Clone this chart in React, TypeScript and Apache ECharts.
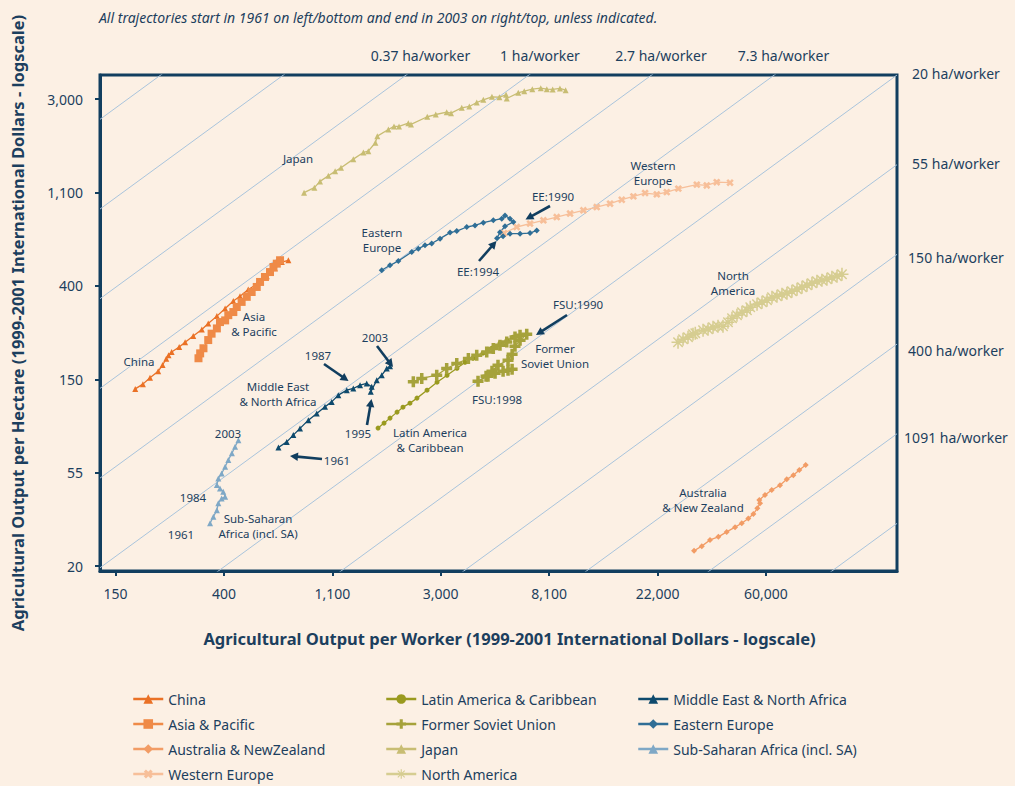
import React, { useEffect, useRef } from "react";
import * as echarts from "echarts";

const FONT = "'Noto Sans', sans-serif";
const TEXT = "#1c3f5e";
const FRAME = "#113e5f";
const BG = "#fcf0e4";
const ISO = "#a9c4dc";

// Axis tick labels (ticks sit at e^k, k = 5..11 on x and 3..8 on y)
const xTickLabels = ["150", "400", "1,100", "3,000", "8,100", "22,000", "60,000"];
const xTickFirstExp = 5;
const yTickLabels = ["20", "55", "150", "400", "1,100", "3,000"];
const yTickFirstExp = 3;
const xRange = [128.6, 200600];
const yRange = [19.08, 3857];

const isoTopLabels = ["0.37 ha/worker", "1 ha/worker", "2.7 ha/worker", "7.3 ha/worker"];
const isoRightLabels = ["20 ha/worker", "55 ha/worker", "150 ha/worker", "400 ha/worker", "1091 ha/worker"];

// ---- series values (output per worker, output per hectare) ----
const chinaX = [178, 191, 204, 220, 229, 237, 242, 249, 267, 282, 304, 329, 349, 378, 408, 440, 468, 505, 546, 599, 646, 688, 731];
const chinaY = [134, 141, 151, 162, 173, 185, 192, 199, 210, 221, 236, 253, 270, 292, 317, 343, 361, 388, 411, 447, 486, 521, 531];

const asiaX = [319, 324, 334, 349, 360, 378, 389, 408, 420, 440, 454, 475, 498, 521, 546, 563, 589, 617, 637, 657, 677];
const asiaY = [186, 196, 207, 226, 242, 256, 274, 279, 295, 305, 322, 340, 359, 378, 399, 421, 444, 468, 494, 512, 531];

const ausX = [30850, 33130, 35740, 38600, 41690, 45030, 47890, 50900, 53310, 55310, 56710, 56310, 59360, 63190, 68180, 72530, 77100, 81460, 86400];
const ausY = [23.7, 24.9, 26.6, 27.5, 29.0, 30.5, 31.8, 33.5, 35.1, 37.3, 39.4, 40.8, 43.0, 45.4, 47.8, 50.9, 53.2, 56.2, 59.3];

const weX = [5345, 6008, 6794, 7685, 8691, 9828, 11113, 12569, 14215, 15836, 17631, 19634, 21876, 23983, 26684, 31641, 34684, 38023, 42995];
const weY = [710, 758, 786, 814, 843, 875, 906, 938, 973, 1015, 1052, 1090, 1075, 1101, 1143, 1193, 1183, 1225, 1218];

const lacX = [1672, 1767, 1867, 1992, 2104, 2244, 2394, 2627, 2881, 3160, 3463, 3729, 4015, 4402, 4783, 5150, 5491, 5806];
const lacY = [88.1, 92.9, 98.0, 104.5, 110.2, 115.0, 121.4, 132.2, 144.0, 155.1, 167.2, 178.2, 186.0, 196.4, 207.1, 218.6, 225.6, 233.0];

const fsuX = [2315, 2502, 2873, 3149, 3456, 3847, 4155, 4556, 4841, 5150, 5481, 5914, 6196, 6590, 6196, 5914, 5758, 5546, 5056, 4783, 4528, 4205, 4610, 4920, 5298, 5546, 5758];
const fsuY = [144.5, 149.8, 155.1, 166.7, 175.9, 185.5, 192.1, 199.1, 206.5, 213.8, 221.6, 233.6, 238.0, 240.6, 225.6, 211.7, 194.2, 182.2, 172.6, 161.9, 153.5, 145.5, 153.5, 158.5, 161.9, 163.7, 165.5];

const japanX = [845, 929, 979, 1057, 1125, 1188, 1331, 1460, 1528, 1631, 1661, 1839, 1937, 2029, 2210, 2266, 2633, 2847, 3149, 3278, 3618, 3881, 4155, 4415, 4780, 5120, 5445, 5480, 6095, 6440, 6940, 7500, 7930, 8375, 8950, 9435];
const japanY = [1095, 1155, 1235, 1313, 1375, 1430, 1567, 1683, 1707, 1868, 2004, 2153, 2224, 2224, 2304, 2272, 2467, 2527, 2591, 2563, 2716, 2754, 2874, 2957, 3055, 3041, 3121, 2999, 3188, 3242, 3314, 3350, 3314, 3304, 3339, 3278];

const naX = [26610, 27870, 29180, 30550, 31200, 33520, 35100, 36750, 38480, 40290, 42190, 43780, 45840, 48000, 50250, 51800, 55150, 57750, 60480, 63310, 66290, 69410, 72680, 76100, 79760, 83510, 87440, 91550, 95860, 100370, 105090, 110040, 115330, 120750];
const naY = [220.8, 228.0, 233.0, 240.6, 243.2, 251.1, 253.7, 259.3, 261.9, 262.0, 273.4, 285.4, 294.7, 304.3, 310.9, 321.1, 331.6, 338.6, 346.1, 357.5, 361.2, 369.1, 372.8, 381.0, 389.2, 397.7, 406.3, 415.0, 424.2, 428.8, 433.2, 442.7, 447.7, 457.1];

const menaX = [667, 720, 765, 814, 879, 950, 1025, 1090, 1159, 1253, 1331, 1416, 1506, 1577, 1563, 1652, 1730, 1812, 1867];
const menaY = [71.6, 76.0, 81.7, 87.8, 95.9, 103.0, 110.6, 116.6, 125.3, 132.2, 134.6, 139.5, 142.0, 137.0, 129.8, 147.1, 155.1, 166.7, 170.9];

const eeX = [1730, 1867, 2016, 2282, 2424, 2578, 2743, 2962, 3249, 3456, 3790, 4089, 4415, 4841, 5234, 5393, 5647, 5825, 5393, 5150, 5009, 5298, 5647, 6196, 6794, 7229];
const eeY = [477, 503, 527, 580, 601, 623, 635, 669, 714, 726, 758, 771, 794, 814, 829, 858, 829, 800, 764, 716, 672, 686, 706, 706, 710, 731];

const ssaX = [355, 366, 378, 383, 395, 408, 401, 389, 378, 383, 395, 408, 420, 434, 447, 461];
const ssaY = [31.8, 34.1, 36.6, 39.4, 41.5, 42.2, 44.6, 46.2, 47.9, 51.4, 54.2, 58.2, 62.6, 67.2, 72.1, 77.4];

const PLUS = "path://M3.4,0H6.6V3.4H10V6.6H6.6V10H3.4V6.6H0V3.4H3.4Z";
const STAR = "path://M4.4,0H5.6V3.6L8.2,1L9,1.8L6.4,4.4H10V5.6H6.4L9,8.2L8.2,9L5.6,6.4V10H4.4V6.4L1.8,9L1,8.2L3.6,5.6H0V4.4H3.6L1,1.8L1.8,1L4.4,3.6Z";

type Spec = { name: string; color: string; symbol: string; size: number; rotate?: number; xs: number[]; ys: number[] };

const specs: Spec[] = [
  { name: "China", color: "#ea7126", symbol: "triangle", size: 6, xs: chinaX, ys: chinaY },
  { name: "Asia & Pacific", color: "#ef8a47", symbol: "rect", size: 8, xs: asiaX, ys: asiaY },
  { name: "Australia & NewZealand", color: "#f29c65", symbol: "diamond", size: 6, xs: ausX, ys: ausY },
  { name: "Western Europe", color: "#f7bf99", symbol: PLUS, size: 8, rotate: 45, xs: weX, ys: weY },
  { name: "Latin America & Caribbean", color: "#9a9a1f", symbol: "circle", size: 5, xs: lacX, ys: lacY },
  { name: "Former Soviet Union", color: "#a6a23b", symbol: PLUS, size: 11, xs: fsuX, ys: fsuY },
  { name: "Japan", color: "#c8bd73", symbol: "triangle", size: 6, xs: japanX, ys: japanY },
  { name: "North America", color: "#d6cd91", symbol: STAR, size: 13, xs: naX, ys: naY },
  { name: "Middle East & North Africa", color: "#0e4a6d", symbol: "triangle", size: 6, xs: menaX, ys: menaY },
  { name: "Eastern Europe", color: "#2f6e96", symbol: "diamond", size: 6, xs: eeX, ys: eeY },
  { name: "Sub-Saharan Africa (incl. SA)", color: "#7fa8c6", symbol: "triangle", size: 6, xs: ssaX, ys: ssaY },
];

// Drawn iso-lines (ha/worker): as drawn in the reference they climb 0.848 ln-units of y
// per ln-unit of x, neighbours 0.96 ln-units apart vertically; line "20" meets the top-right corner.
const ISO_SLOPE = 0.848;
const ISO_STEP = 0.96;

const annotations = [
  { t: ["Japan"], x: 298, y: 158 },
  { t: ["Western", "Europe"], x: 653, y: 173 },
  { t: ["EE:1990"], x: 553, y: 196 },
  { t: ["Eastern", "Europe"], x: 382, y: 240 },
  { t: ["EE:1994"], x: 478, y: 271 },
  { t: ["North", "America"], x: 733, y: 283 },
  { t: ["Asia", "& Pacific"], x: 254, y: 324 },
  { t: ["China"], x: 139, y: 361 },
  { t: ["FSU:1990"], x: 578, y: 304 },
  { t: ["Former", "Soviet Union"], x: 555, y: 356 },
  { t: ["2003"], x: 375, y: 337 },
  { t: ["1987"], x: 318, y: 355 },
  { t: ["Middle East", "& North Africa"], x: 278, y: 394 },
  { t: ["FSU:1998"], x: 497, y: 399 },
  { t: ["1995"], x: 358, y: 433 },
  { t: ["Latin America", "& Caribbean"], x: 430, y: 440 },
  { t: ["1961"], x: 337, y: 460 },
  { t: ["2003"], x: 228, y: 433 },
  { t: ["1984"], x: 193, y: 497 },
  { t: ["Sub-Saharan", "Africa (incl. SA)"], x: 258, y: 526 },
  { t: ["1961"], x: 181, y: 534 },
  { t: ["Australia", "& New Zealand"], x: 703, y: 500 },
];
const NOTE_LINE = 15.5;
const NOTE_SIZE = 11.5;

const arrows = [
  [550, 206, 525.5, 219.5],
  [479, 261, 496.5, 241],
  [567, 315, 536, 335],
  [377, 346, 393, 367],
  [324, 364, 348.5, 381],
  [367, 425, 371.5, 399],
  [322, 459, 290, 456],
];

function arrowEls(a: number[]) {
  const [x1, y1, x2, y2] = a;
  const dx = x2 - x1, dy = y2 - y1;
  const len = Math.hypot(dx, dy);
  const ux = dx / len, uy = dy / len;
  const hl = 8, hw = 4.2;
  const bx = x2 - ux * hl, by = y2 - uy * hl;
  return [
    { type: "line", silent: true, z: 20, shape: { x1, y1, x2: bx + ux, y2: by + uy }, style: { stroke: FRAME, lineWidth: 2.6 } },
    {
      type: "polygon", silent: true, z: 20,
      shape: { points: [[x2, y2], [bx - uy * hw, by + ux * hw], [bx + uy * hw, by - ux * hw]] },
      style: { fill: FRAME },
    },
  ];
}

export default function App() {
  const ref = useRef<HTMLDivElement>(null);
  useEffect(() => {
    if (!ref.current) return;
    const chart = echarts.init(ref.current, undefined, { renderer: "svg" });
    const lx = xRange.map(Math.log);
    const ly = yRange.map(Math.log);

    const isoSeries: any[] = [];
    for (let k = -2; k <= 9; k++) {
      const yAtRight = ly[1] - (k - 4) * ISO_STEP;
      const yAtLeft = yAtRight - ISO_SLOPE * (lx[1] - lx[0]);
      isoSeries.push({
        type: "line", silent: true, symbol: "none", z: 1, clip: true,
        lineStyle: { color: ISO, width: 1 },
        data: [[lx[0], yAtLeft], [lx[1], yAtRight]],
        tooltip: { show: false },
      });
    }

    const dataSeries = specs.map((s) => ({
      name: s.name,
      type: "line",
      z: 3,
      symbol: s.symbol,
      symbolSize: s.size,
      symbolRotate: s.rotate || 0,
      showAllSymbol: true,
      itemStyle: { color: s.color },
      lineStyle: { color: s.color, width: 1.3 },
      data: s.xs.map((x, i) => [Math.log(x), Math.log(s.ys[i])]),
    }));

    const xTickVals = xTickLabels.map((_, i) => xTickFirstExp + i);
    const yTickVals = yTickLabels.map((_, i) => yTickFirstExp + i);

    const legendBase: any = {
      orient: "vertical",
      top: 692,
      padding: 0,
      itemWidth: 30,
      itemHeight: 12,
      itemGap: 11,
      textStyle: { color: TEXT, fontSize: 14, fontFamily: FONT },
      lineStyle: { width: 2.5 },
    };
    const names = specs.map((s) => s.name);

    const graphics: any[] = [
      {
        type: "text", x: 99, y: 17,
        style: { text: "All trajectories start in 1961 on left/bottom and end in 2003 on right/top, unless indicated.", fill: TEXT, fontSize: 14, fontStyle: "italic", fontFamily: FONT, verticalAlign: "middle" },
      },
    ];
    const topX = [420.5, 540, 661, 783.5];
    isoTopLabels.forEach((t, i) =>
      graphics.push({ type: "text", x: topX[i], y: 55, style: { text: t, fill: TEXT, fontSize: 14, fontFamily: FONT, align: "center", verticalAlign: "middle" } })
    );
    const rightY = [73.3, 163, 257, 350, 437];
    isoRightLabels.forEach((t, i) =>
      graphics.push({ type: "text", x: 956, y: rightY[i], style: { text: t, fill: TEXT, fontSize: 14, fontFamily: FONT, align: "center", verticalAlign: "middle" } })
    );
    annotations.forEach((a) => {
      const n = a.t.length;
      a.t.forEach((line, j) =>
        graphics.push({
          type: "text", x: a.x, y: a.y + (j - (n - 1) / 2) * NOTE_LINE, z: 20,
          style: { text: line, fill: TEXT, fontSize: NOTE_SIZE, fontFamily: FONT, align: "center", verticalAlign: "middle" },
        })
      );
    });
    arrows.forEach((a) => graphics.push(...arrowEls(a)));

    chart.setOption({
      animation: false,
      backgroundColor: BG,
      textStyle: { fontFamily: FONT },
      grid: { left: 100, top: 75, width: 797, height: 496, show: true, borderColor: FRAME, borderWidth: 3, backgroundColor: "transparent" },
      xAxis: {
        type: "value",
        min: lx[0],
        max: lx[1],
        axisLine: { show: true, lineStyle: { color: FRAME, width: 3 } },
        axisTick: { show: true, customValues: xTickVals, length: 5, lineStyle: { color: FRAME, width: 2 } },
        axisLabel: {
          customValues: xTickVals,
          color: TEXT, fontSize: 14, margin: 15, fontFamily: FONT,
          formatter: (v: number) => xTickLabels[Math.round(v - xTickFirstExp)] ?? "",
        },
        splitLine: { show: false },
        name: "Agricultural Output per Worker (1999-2001 International Dollars - logscale)",
        nameLocation: "middle",
        nameGap: 59,
        nameTextStyle: { color: TEXT, fontSize: 16.5, fontWeight: "bold", fontFamily: FONT, padding: [0, 0, 0, 22] },
      },
      yAxis: {
        type: "value",
        min: ly[0],
        max: ly[1],
        axisLine: { show: true, lineStyle: { color: FRAME, width: 3 } },
        axisTick: { show: true, customValues: yTickVals, length: 5, lineStyle: { color: FRAME, width: 2 } },
        axisLabel: {
          customValues: yTickVals,
          color: TEXT, fontSize: 14, margin: 17, fontFamily: FONT,
          formatter: (v: number) => yTickLabels[Math.round(v - yTickFirstExp)] ?? "",
        },
        splitLine: { show: false },
        name: "Agricultural Output per Hectare (1999-2001 International Dollars - logscale)",
        nameLocation: "middle",
        nameGap: 74,
        nameTextStyle: { color: TEXT, fontSize: 16.5, fontWeight: "bold", fontFamily: FONT },
      },
      legend: [
        { ...legendBase, left: 132, data: names.slice(0, 4) },
        { ...legendBase, left: 385, data: names.slice(4, 8) },
        { ...legendBase, left: 637, data: names.slice(8) },
      ],
      series: [...isoSeries, ...dataSeries],
      graphic: graphics,
    });
    return () => chart.dispose();
  }, []);
  return <div ref={ref} style={{ position: "absolute", left: 0, top: 0, width: 1015, height: 786 }} />;
}
